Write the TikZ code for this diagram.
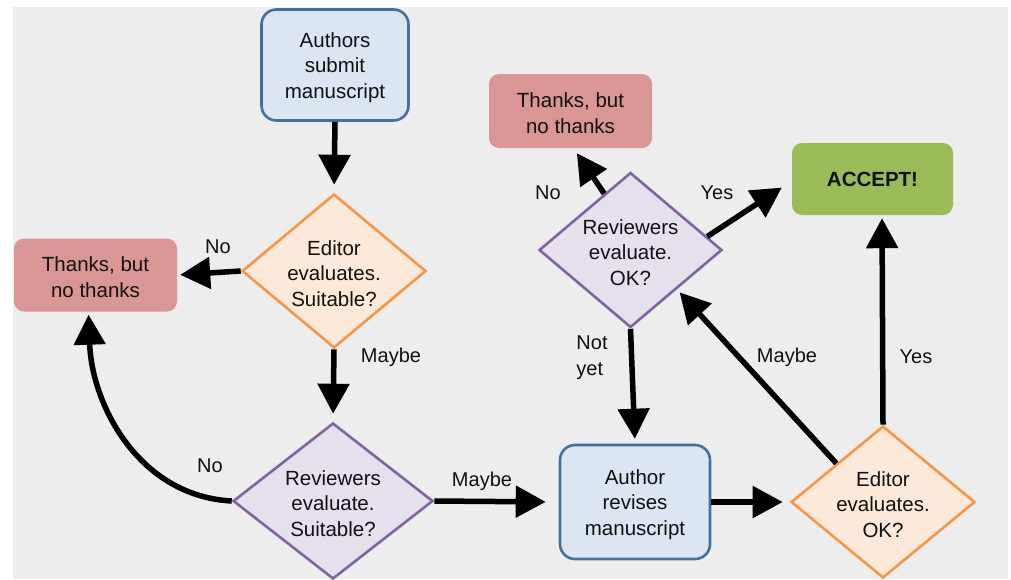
\documentclass[tikz,border=0pt]{standalone}
\usepackage{fontspec}
\setmainfont{Liberation Sans}
\usetikzlibrary{shapes.geometric,arrows.meta}
\definecolor{bg}{HTML}{EDEDED}
\definecolor{bluefill}{HTML}{DCE6F2}
\definecolor{blueline}{HTML}{41719C}
\definecolor{orfill}{HTML}{FDE9D9}
\definecolor{orline}{HTML}{F79646}
\definecolor{pufill}{HTML}{E5E0EC}
\definecolor{puline}{HTML}{8064A2}
\definecolor{redfill}{HTML}{D99694}
\definecolor{grfill}{HTML}{9BBB59}
\definecolor{ink}{HTML}{111111}
\begin{document}
\begin{tikzpicture}[x=1pt,y=-1pt,
  txt/.style={font=\fontsize{20.5}{25.7}\selectfont, text=ink, align=center, inner sep=0pt, yshift=-2.5pt},
  lbl/.style={font=\fontsize{20}{26}\selectfont, text=ink, align=left, inner sep=0pt},
  bluebox/.style={draw=blueline, fill=bluefill, line width=2.6pt, rounded corners=15pt, inner sep=0pt},
  redbox/.style={fill=redfill, rounded corners=10pt, inner sep=0pt, minimum width=163pt, minimum height=73pt},
  orkite/.style={diamond, draw=orline, fill=orfill, line width=2.6pt, inner sep=0pt},
  pukite/.style={diamond, draw=puline, fill=pufill, line width=2.6pt, inner sep=0pt},
  arr/.style={line width=5.5pt, -{Triangle[length=30pt,width=31pt]}}
]
\useasboundingbox (0,0) rectangle (1011,579);
\fill[white] (0,0) rectangle (1011,579);
\fill[bg] (13,7) rectangle (1008,579);

% nodes
\node[bluebox, minimum width=147pt, minimum height=111pt] (auth) at (335,65) {};
\node[txt] (autht) at (auth) {Authors\\submit\\manuscript};

\node[orkite, minimum width=184pt, minimum height=154pt] (ed1) at (334,271) {};
\node[txt] (ed1t) at (ed1) {Editor\\evaluates.\\Suitable?};

\node[redbox] (th1) at (95.5,275) {};
\node[txt] (th1t) at (th1) {Thanks, but\\no thanks};

\node[pukite, minimum width=200pt, minimum height=156pt] (rv1) at (333,501) {};
\node[txt] (rv1t) at (rv1) {Reviewers\\evaluate.\\Suitable?};

\node[bluebox, minimum width=150pt, minimum height=114pt] (rev) at (635,502) {};
\node[txt] (revt) at (rev) {Author\\revises\\manuscript};

\node[orkite, minimum width=184pt, minimum height=152pt] (ed2) at (883,502) {};
\node[txt] (ed2t) at (ed2) {Editor\\evaluates.\\OK?};

\node[fill=grfill, rounded corners=10pt, minimum width=161pt, minimum height=72pt] (acc) at (872.5,179) {};
\node[txt, font=\fontsize{20.5}{25.7}\selectfont\bfseries, yshift=2.5pt] (acct) at (acc) {ACCEPT!};

\node[pukite, minimum width=183pt, minimum height=155pt] (rv2) at (630.5,250) {};
\node[txt] (rv2t) at (rv2) {Reviewers\\evaluate.\\OK?};

\node[redbox, minimum height=74pt] (th2) at (570.5,111) {};
\node[txt] (th2t) at (th2) {Thanks, but\\no thanks};

% connectors
\draw[arr, shorten >=8pt] (auth.south) -- (ed1.north);
\draw[arr, shorten >=3pt] (ed1.west) -- (th1.east);
\draw[arr, shorten >=8pt] (ed1.south) -- (rv1.north);
\draw[arr, shorten >=3pt] (rv1.west) to[out=177,in=-88] ([xshift=-7pt]th1.south);
\draw[arr, shorten >=13pt] (rv1.east) -- (rev.west);
\draw[arr, shorten >=7pt] (rev.east) -- (ed2.west);
\draw[arr, shorten >=3pt] (ed2.north) -- ([xshift=9.5pt]acc.south);
\draw[arr, shorten >=4pt] (ed2.north west) -- (rv2.south east);
\draw[arr, shorten >=5pt] (rv2.south) -- (rev.north);
\draw[arr, shorten >=6pt] (rv2.115) -- ([xshift=3pt]th2.south);
\draw[arr, shorten >=12pt] (rv2.10) -- ([yshift=-2pt]acc.west);

% labels
\node[lbl] (l1) at (218,247) {No};
\node[lbl] (l2) at (391,357) {Maybe};
\node[lbl] (l3) at (210,466) {No};
\node[lbl] (l4) at (482,481) {Maybe};
\node[lbl] (l5) at (592,358) {Not\\yet};
\node[lbl] (l6) at (787,357) {Maybe};
\node[lbl] (l7) at (916,357) {Yes};
\node[lbl] (l8) at (548,193) {No};
\node[lbl] (l9) at (717,193) {Yes};
\end{tikzpicture}
\end{document}
